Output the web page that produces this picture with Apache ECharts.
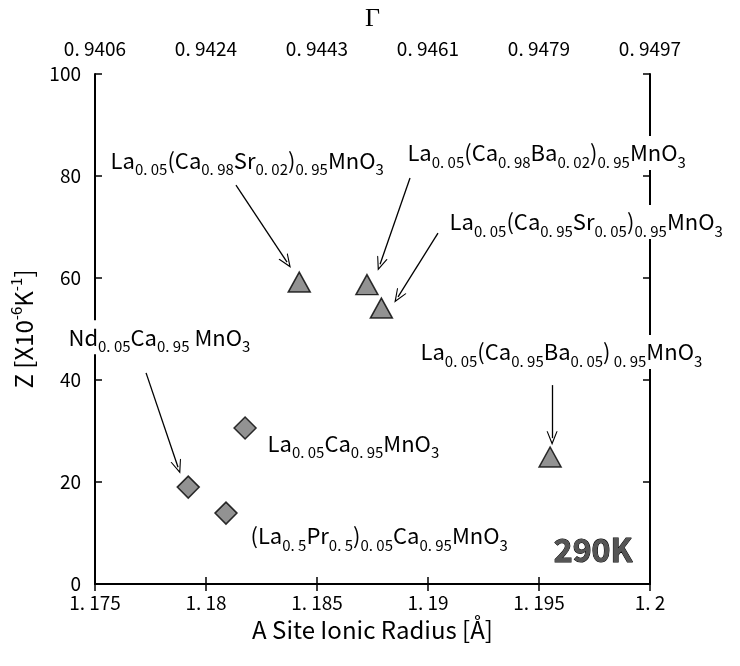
<!DOCTYPE html>
<html>
<head>
<meta charset="utf-8">
<script src="https://cdn.jsdelivr.net/npm/echarts@6/dist/echarts.min.js"></script>
<style>
html,body{margin:0;padding:0;background:#fff;}
#chart{width:740px;height:666px;}
</style>
</head>
<body>
<div id="chart"></div>
<script>
// ---- data ----
const xTickLabels = ['1. 175', '1. 18', '1. 185', '1. 19', '1. 195', '1. 2'];
const gammaTickLabels = ['0. 9406', '0. 9424', '0. 9443', '0. 9461', '0. 9479', '0. 9497'];
const triangleRadius = [1.1842, 1.18725, 1.1879, 1.1955];
const triangleZ = [59.2, 58.7, 54.1, 24.9];
const diamondRadius = [1.1792, 1.18176, 1.1809];
const diamondZ = [19.0, 30.6, 13.9];

// annotation labels (anchor in data units, with pixel nudge for the one left of the axis)
const labelTexts = [
  'La{s|0. 05}(Ca{s|0. 98}Sr{s|0. 02}){s|0. 95}MnO{s|3}',
  'La{s|0. 05}(Ca{s|0. 98}Ba{s|0. 02}){s|0. 95}MnO{s|3}',
  'La{s|0. 05}(Ca{s|0. 95}Sr{s|0. 05}){s|0. 95}MnO{s|3}',
  'La{s|0. 05}(Ca{s|0. 95}Ba{s|0. 05}){s| 0. 95}MnO{s|3}',
  'Nd{s|0. 05}Ca{s|0. 95} MnO{s|3}',
  'La{s|0. 05}Ca{s|0. 95}MnO{s|3}',
  '(La{s|0. 5}Pr{s|0. 5}){s|0. 05}Ca{s|0. 95}MnO{s|3}'
];
const labelX = [1.17559, 1.18896, 1.19086, 1.18955, 1.175, 1.18266, 1.18189];
const labelY = [83.1, 84.5, 71.0, 45.5, 48.4, 27.6, 9.4];
const labelNudge = [0, 0, 0, 0, -29, 0, 0];
// arrows: start -> end (data units)
const arrowX1 = [1.18135, 1.18919, 1.19045, 1.19559, 1.17730];
const arrowY1 = [78.2, 79.6, 68.8, 39.0, 41.4];
const arrowX2 = [1.18365, 1.18784, 1.18865, 1.19559, 1.17874];
const arrowY2 = [63.1, 62.7, 56.3, 28.6, 22.9];
const tempLabel = '290K';
const tempX = 1.19923, tempY = 6.7;

const FONT = "'Noto Sans CJK JP', 'DejaVu Sans Condensed', sans-serif";
const chart = echarts.init(document.getElementById('chart'), null, {renderer: 'canvas'});

const tickIdx = v => Math.round((v - 1.175) / 0.005);
const axisLineStyle = {color: '#000', width: 2};
const tickStyle = {show: true, inside: true, length: 7, lineStyle: {color: '#000', width: 1.5}};

const richMain = {
  fontFamily: FONT, fontSize: 22, color: '#000', lineHeight: 34,
  rich: {
    s: {fontFamily: FONT, fontSize: 15, color: '#000', lineHeight: 12, verticalAlign: 'bottom'}
  }
};

const option = {
  animation: false,
  backgroundColor: '#fff',
  grid: {left: 95, right: 90, top: 74, bottom: 82, containLabel: false, outerBoundsMode: 'none'},
  xAxis: [
    {
      type: 'value', position: 'bottom', min: 1.175, max: 1.2, interval: 0.005,
      name: 'A Site Ionic Radius [Å]', nameLocation: 'middle', nameGap: 34,
      nameTextStyle: {fontFamily: FONT, fontSize: 24, color: '#000'},
      axisLine: {show: true, lineStyle: axisLineStyle},
      axisTick: tickStyle,
      axisLabel: {margin: 9, fontFamily: FONT, fontSize: 19, color: '#000',
        formatter: v => xTickLabels[tickIdx(v)]},
      splitLine: {show: false}
    },
    {
      type: 'value', position: 'top', min: 1.175, max: 1.2, interval: 0.005,
      name: 'Γ', nameLocation: 'middle', nameGap: 42,
      nameTextStyle: {fontFamily: "'Liberation Serif', serif", fontSize: 26, color: '#000'},
      axisLine: {show: true, lineStyle: axisLineStyle},
      axisTick: tickStyle,
      axisLabel: {margin: 16, fontFamily: FONT, fontSize: 19, color: '#000',
        formatter: v => gammaTickLabels[tickIdx(v)]},
      splitLine: {show: false}
    }
  ],
  yAxis: [
    {
      type: 'value', position: 'left', min: 0, max: 100, interval: 20,
      name: 'Z [X10{sup|-6}K{sup|-1}]', nameLocation: 'middle', nameGap: 52, nameRotate: 90,
      nameTextStyle: {fontFamily: FONT, fontSize: 24, color: '#000', lineHeight: 30,
        rich: {sup: {fontFamily: FONT, fontSize: 15, color: '#000', lineHeight: 10, verticalAlign: 'top'}}},
      axisLine: {show: true, lineStyle: axisLineStyle},
      axisTick: tickStyle,
      axisLabel: {margin: 14, fontFamily: FONT, fontSize: 19, color: '#000'},
      splitLine: {show: false}
    },
    {
      type: 'value', position: 'right', min: 0, max: 100, interval: 20,
      axisLine: {show: true, lineStyle: axisLineStyle},
      axisTick: tickStyle,
      axisLabel: {show: false},
      splitLine: {show: false}
    }
  ],
  series: [
    {
      name: 'triangles', type: 'scatter', xAxisIndex: 0, yAxisIndex: 0,
      symbol: 'triangle', symbolSize: [22, 20],
      itemStyle: {color: '#777', borderColor: '#000', borderWidth: 1.5},
      data: triangleRadius.map((x, i) => [x, triangleZ[i]]),
      z: 5
    },
    {
      name: 'diamonds', type: 'scatter', xAxisIndex: 0, yAxisIndex: 0,
      symbol: 'diamond', symbolSize: [22, 22],
      itemStyle: {color: '#777', borderColor: '#000', borderWidth: 1.5},
      data: diamondRadius.map((x, i) => [x, diamondZ[i]]),
      z: 5
    },
    {
      name: 'annotations', type: 'scatter', xAxisIndex: 0, yAxisIndex: 0,
      data: [], silent: true, z: 4,
      markLine: {
        silent: true, animation: false,
        symbol: ['none', 'path://M0,0 L6,13 L4.8,13 L0,3 L-4.8,13 L-6,13 Z'], symbolSize: [11, 14],
        lineStyle: {color: '#000', width: 1.3, type: 'solid'},
        itemStyle: {color: '#000'},
        label: {show: false},
        data: arrowX1.map((x, i) => [
          {coord: [x, arrowY1[i]]},
          {coord: [arrowX2[i], arrowY2[i]]}
        ])
      },
      markPoint: {
        silent: true, animation: false,
        symbol: 'circle', symbolSize: 1,
        itemStyle: {color: 'rgba(0,0,0,0)'},
        data: labelTexts.map((t, i) => ({
          coord: [labelX[i], labelY[i]],
          label: Object.assign({show: true, position: 'right', distance: 0,
            offset: [labelNudge[i], 0],
            backgroundColor: '#fff', padding: [0, 2], formatter: t}, richMain)
        })).concat([{
          coord: [tempX, tempY],
          label: {show: true, position: 'left', distance: 0, formatter: tempLabel,
            fontFamily: FONT, fontSize: 32, fontWeight: 'bold', color: '#555',
            textBorderColor: '#000', textBorderWidth: 1}
        }])
      }
    }
  ]
};
chart.setOption(option);
</script>
</body>
</html>
